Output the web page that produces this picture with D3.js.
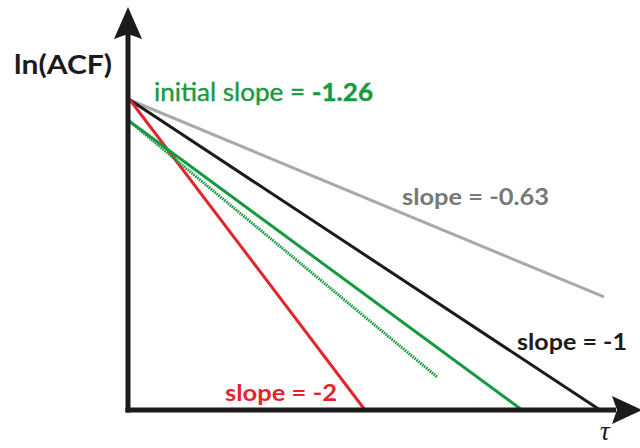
<!DOCTYPE html>
<html>
<head>
<meta charset="utf-8">
<script src="https://cdn.jsdelivr.net/npm/d3@7"></script>
<style>
  html, body { margin: 0; padding: 0; background: #fff; }
  svg { display: block; }
</style>
</head>
<body>
<script>
// Decay of ln(ACF) versus lag tau: straight lines with given slopes
const lineNames   = ["gray", "black", "red", "green", "greenInitial"];
const intercepts  = [0, 0, 0, -0.35, -0.35];
const slopes      = [-0.63, -1, -2, -1.115, -1.26];
const tauEnds     = [5.03, 5, 2.5, 4.17, 3.27];
const lineColors  = ["#a9a9a9", "#1c1a1a", "#e3262b", "#179a3f", "#179a3f"];

// Annotation labels
const labelTexts  = ["slope = -0.63", "slope = -1", "slope = -2"];
const labelColors = ["#787878", "#1c1a1a", "#e3262b"];

const W = 640, H = 448;
const svg = d3.select("body").append("svg").attr("width", W).attr("height", H);

const x = d3.scaleLinear().domain([0, 5]).range([130, 600]);
const y = d3.scaleLinear().domain([0, -5]).range([100, 410]);

const lineGen = d3.line().x(d => x(d[0])).y(d => y(d[1]));

const series = lineNames.map((name, i) => ({
  name,
  color: lineColors[i],
  pts: [[0, intercepts[i]], [tauEnds[i], intercepts[i] + slopes[i] * tauEnds[i]]]
}));

// Lines
series.forEach(s => {
  const p = svg.append("path")
    .attr("d", lineGen(s.pts))
    .attr("fill", "none")
    .attr("stroke", s.color);
  if (s.name === "greenInitial") {
    // hatched rendering for the initial-slope line
    p.attr("stroke-width", 3).attr("stroke-dasharray", "1.6 0.9");
  } else {
    p.attr("stroke-width", 3).attr("stroke-linecap", "round");
  }
});

// Axes with arrowheads
const axisX0 = 128, axisY0 = 410;
svg.append("path")
  .attr("d", `M${axisX0},${axisY0 + 2.5} L${axisX0},30`)
  .attr("stroke", "#1c1a1a").attr("stroke-width", 5).attr("fill", "none");
svg.append("path")
  .attr("d", `M${axisX0 - 2.5},${axisY0} L616,${axisY0}`)
  .attr("stroke", "#1c1a1a").attr("stroke-width", 5).attr("fill", "none");
svg.append("path")
  .attr("d", `M${axisX0},7 L${axisX0 + 14},39 L${axisX0},34 L${axisX0 - 14},39 Z`)
  .attr("fill", "#1c1a1a");
svg.append("path")
  .attr("d", `M642,${axisY0} L612,${axisY0 + 14} L617,${axisY0} L612,${axisY0 - 14} Z`)
  .attr("fill", "#1c1a1a");

const font = "Lato, 'Open Sans', sans-serif";

// Axis titles
svg.append("text")
  .attr("x", 14).attr("y", 74)
  .attr("font-family", font).attr("font-weight", 700).attr("font-size", 26)
  .attr("fill", "#1c1a1a")
  .attr("textLength", 98).attr("lengthAdjust", "spacingAndGlyphs")
  .text("ln(ACF)");

svg.append("text")
  .attr("x", 600).attr("y", 440)
  .attr("font-family", "'Liberation Serif', 'DejaVu Serif', serif")
  .attr("font-style", "italic").attr("font-size", 27)
  .attr("fill", "#1c1a1a")
  .text("τ");

// Initial slope annotation
const t = svg.append("text")
  .attr("x", 154).attr("y", 101)
  .attr("font-family", font).attr("font-size", 25)
  .attr("fill", "#179a3f").attr("stroke", "#179a3f").attr("stroke-width", 0.4)
  .attr("textLength", 219).attr("lengthAdjust", "spacingAndGlyphs");
t.append("tspan").text("initial slope = ");
t.append("tspan").attr("font-weight", 700).text("-1.26");

// Slope labels
const labelPos = [[402, 205, 147], [517, 350, 110], [225, 401, 112]];
labelTexts.forEach((txt, i) => {
  svg.append("text")
    .attr("x", labelPos[i][0]).attr("y", labelPos[i][1])
    .attr("font-family", font).attr("font-weight", 700).attr("font-size", 22)
    .attr("fill", labelColors[i])
    .attr("textLength", labelPos[i][2]).attr("lengthAdjust", "spacingAndGlyphs")
    .text(txt);
});
</script>
</body>
</html>
